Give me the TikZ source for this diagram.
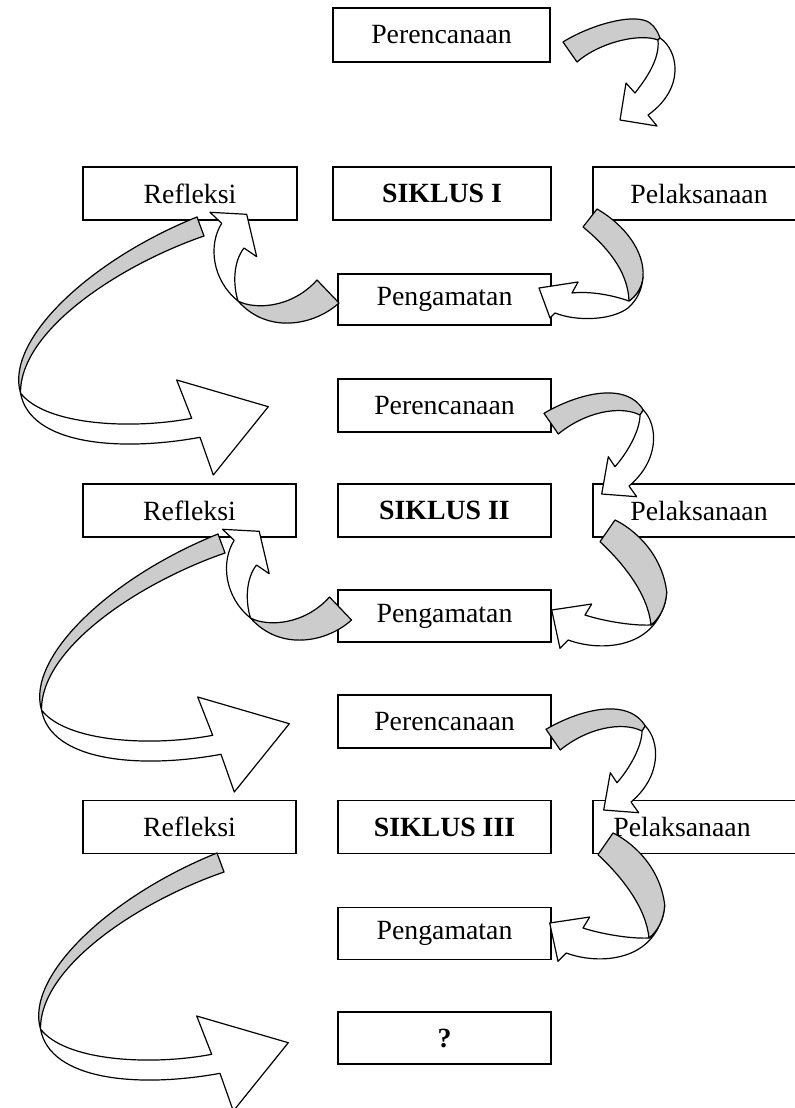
\documentclass[tikz,border=0pt]{standalone}
\usepackage{fontspec}
\setmainfont{Liberation Serif}
\definecolor{agray}{RGB}{204,204,204}
\newcommand\shapeA{%
 \path[gr] (544,413.3) .. controls (575,395) and (625,380) .. (643.3,410) -- (640,415) .. controls (620,405) and (585,412) .. (558.3,434) -- cycle;
 \path[wh] (643.3,410) .. controls (658,425) and (660,460) .. (629,486) -- (636.7,496.7) -- (601.7,494) -- (608.3,456.7) -- (615,466.7) .. controls (628,452) and (640,430) .. (640,415) -- cycle;}
\newcommand\shapeB{%
 \path[wh] (651,625) .. controls (630,626) and (600,620) .. (585,615) -- (591.7,604) -- (551.7,610) -- (560,648.3) -- (568.3,640) .. controls (600,652) and (660,650) .. (666.7,592) .. controls (666,606) and (660,618) .. (651,625) -- cycle;
 \path[gr] (600,541.7) -- (615,520) .. controls (632,528) and (662,552) .. (666.7,592) .. controls (666,606) and (660,618) .. (651,625) .. controls (648,595) and (625,565) .. (600,541.7) -- cycle;}
\newcommand\shapeC{%
 \path[wh] (238,301) .. controls (233,285) and (233,262) .. (244,248) -- (256.7,256.7) -- (246.7,214.3) -- (210,212.3) -- (221.7,223.3) .. controls (208,245) and (212,280) .. (238,301) -- cycle;
 \path[gr] (238,301) .. controls (255,310) and (292,308) .. (317,280) -- (339,303) .. controls (315,325) and (268,335) .. (238,301) -- cycle;}
\newcommand\shapeD{%
 \path[wh] (20.5,393) .. controls (45,425) and (130,430) .. (191.7,418.3) -- (176.7,380) -- (268.3,406.7) -- (213.3,475) -- (200,437.3) .. controls (120,452) and (30,445) .. (20.5,393) -- cycle;
 \path[gr] (197,217) -- (204,236) .. controls (120,265) and (20,330) .. (20.5,393) .. controls (5,340) and (90,260) .. (197,217) -- cycle;}
\begin{document}
\begin{tikzpicture}[x=0.5pt,y=-0.5pt,
  box/.style={draw, line width=0.65pt, fill=white, inner sep=0pt,
    minimum width=106.5pt, minimum height=26.5pt,
    font=\fontsize{13.9}{16}\selectfont},
  ar/.style={draw, line width=0.6pt, line join=round},
  gr/.style={ar, fill=agray},
  wh/.style={ar, fill=white}]
\useasboundingbox (0,0) rectangle (795,1108);
\clip (0,0) rectangle (795,1108);
% cycle I
\node[box, minimum width=108.5pt, minimum height=27pt] (per1) at (441.5,35) {Perencanaan};
\node[box, minimum width=107pt] (ref1) at (190,193.5) {Refleksi};
\node[box, minimum width=109pt] (sik1) at (442,193.5) {\bfseries SIKLUS I};
\node[box, minimum width=101.5pt] (pel1) at (694.5,193.5) {\hspace*{4.5pt}Pelaksanaan};
\node[box, minimum height=25.5pt] (peng1) at (444.5,299.5) {Pengamatan};
% cycle II
\node[box] (per2) at (444.5,405.5) {Perencanaan};
\node[box] (ref2) at (189.5,510.5) {Refleksi};
\node[box] (sik2) at (444.5,510.5) {\bfseries SIKLUS II};
\node[box, minimum width=101.5pt] (pel2) at (694.5,510.5) {\hspace*{4.5pt}Pelaksanaan};
\node[box, minimum height=26pt] (peng2) at (444.5,616) {Pengamatan};
% cycle III
\node[box] (per3) at (444.5,721.5) {Perencanaan};
\node[box] (ref3) at (189.5,827) {Refleksi};
\node[box] (sik3) at (444.5,827) {\bfseries SIKLUS III};
\node[box, minimum width=101.5pt] (pel3) at (694.5,827) {\hspace*{-12.5pt}Pelaksanaan};
\node[box, minimum height=26pt] (peng3) at (444.5,933.5) {Pengamatan};
\node[box, minimum height=26pt] (q) at (444.5,1038) {\bfseries ?};
% cycle I arrows
\path[gr] (563,42) .. controls (590,25) and (635,12) .. (650,23) .. controls (655,27) and (658,32) .. (660,38) -- (658,40) .. controls (640,33) and (600,42) .. (577,62) -- cycle;
\path[wh] (660,38) .. controls (678,50) and (686,88) .. (648,115) -- (657,126) -- (620,120) -- (626,83) -- (635,93) .. controls (645,80) and (660,60) .. (658,40) -- cycle;
\path[wh] (629,301) .. controls (612,295) and (590,291) .. (572,293) -- (578,282) -- (539,288) -- (550,318) -- (555,313) .. controls (578,322) and (612,320) .. (628,308) .. controls (637,300) and (642,290) .. (643,277) .. controls (642,288) and (636,296) .. (629,301) -- cycle;
\path[gr] (583,227) -- (597,209) .. controls (625,225) and (645,252) .. (643,277) .. controls (642,288) and (636,296) .. (629,301) .. controls (628,270) and (605,245) .. (583,227) -- cycle;
\shapeD
\shapeC
% cycle II arrows
\shapeA
\shapeB
\begin{scope}[shift={(21,317)}]\shapeD\end{scope}
\begin{scope}[shift={(12.5,317)}]\shapeC\end{scope}
% cycle III arrows
\begin{scope}[shift={(2,316)}]\shapeA\end{scope}
\begin{scope}[shift={(-2,313)}]\shapeB\end{scope}
\begin{scope}[shift={(20,636)}]\shapeD\end{scope}
\end{tikzpicture}
\end{document}
